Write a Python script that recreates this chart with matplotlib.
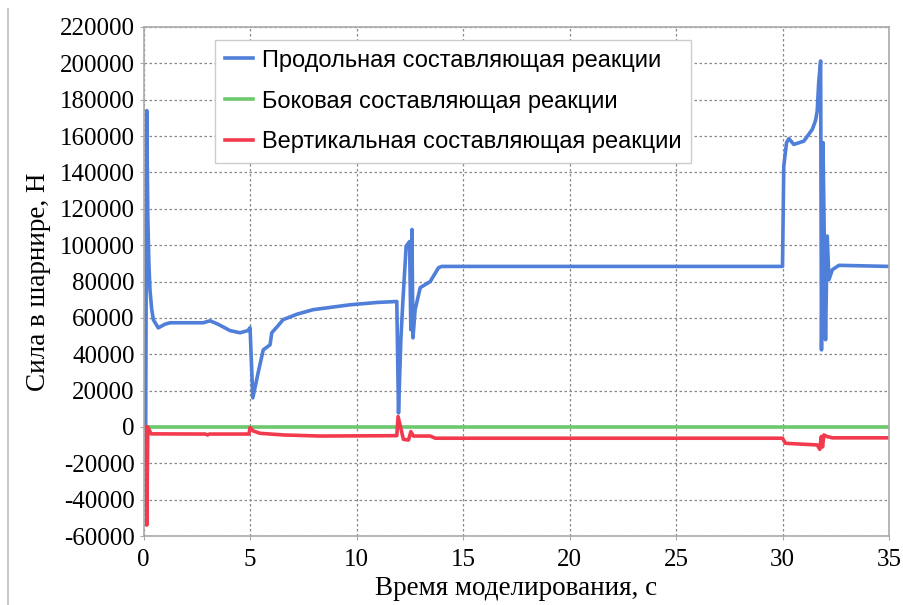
import numpy as np
import matplotlib.pyplot as plt
from matplotlib.lines import Line2D

plt.rcParams['axes.unicode_minus'] = False

# Продольная составляющая (blue)
t_long = [0, 0.1, 0.15, 0.2, 0.25, 0.3, 0.38, 0.46, 0.69, 1.0, 1.24, 2.8, 3.12, 3.5, 4.06, 4.53, 4.9, 5.0,
          5.13, 5.38, 5.62, 5.94, 6.02, 6.3, 6.55, 7.2, 7.96, 9.7, 11.0, 11.89, 11.97, 12.08,
          12.18, 12.33, 12.49, 12.55, 12.6, 12.65, 12.75, 12.99, 13.46, 13.85, 14.0,
          30.0, 30.06, 30.19, 30.3, 30.53, 31.0, 31.4, 31.55, 31.63, 31.7, 31.79, 31.83, 31.9,
          31.94, 32.02, 32.1, 32.18, 32.34, 32.65, 35.0]
v_long = [0, 0, 174000, 115000, 90000, 75500, 65000, 59000, 54500, 56500, 57300, 57300, 58400, 56500, 53000,
          51800, 53000, 54600, 16000, 29800, 42400, 45200, 51800, 55500, 59000, 62000, 64500,
          67200, 68500, 69000, 7700, 48000, 70000, 99400, 102000, 53500, 108600, 49000,
          64500, 76600, 80000, 87600, 88300, 88300, 143500, 156400, 158600, 155400,
          157200, 163700, 168500, 173800, 189600, 201300, 42400, 156400, 123400, 48000, 105000,
          81000, 86500, 88900, 88300]

# Боковая составляющая (green)
t_side = [0, 35.0]
v_side = [0, 0]

# Вертикальная составляющая (red)
t_vert = [0, 0.12, 0.15, 0.2, 0.35, 2.9, 3.0, 3.1, 4.95, 5.0, 5.15, 5.47, 6.55, 8.3,
          11.89, 11.95, 12.2, 12.44, 12.55, 12.67, 13.46, 13.7, 30.0, 30.14, 31.63,
          31.75, 31.82, 31.88, 31.94, 32.1, 32.34, 35.0]
v_vert = [0, 0, -54000, 0, -3800, -3900, -4400, -3900, -3900, -400, -2200, -3500,
          -4400, -5000, -4800, 5700, -6800, -7200, -2600, -5000, -5000, -6200, -6200,
          -9000, -9900, -12300, -5300, -11000, -4400, -5300, -6000, -6000]

labels = ["Продольная составляющая реакции",
          "Боковая составляющая реакции",
          "Вертикальная составляющая реакции"]
colors = ["#4f7fd8", "#6dc86d", "#f23a4e"]

fig = plt.figure(figsize=(9.04, 6.05), dpi=100)
ax = fig.add_axes([0.1588, 0.114, 0.8246, 0.8414])

ax.plot(t_long, v_long, color=colors[0], lw=2.6, label=labels[0])
ax.plot(t_side, v_side, color=colors[1], lw=2.6, label=labels[1])
ax.plot(t_vert, v_vert, color=colors[2], lw=2.6, label=labels[2])

ax.set_xlim(0, 35)
ax.set_ylim(-60000, 220000)
ax.set_xticks(np.arange(0, 36, 5))
ax.set_yticks(np.arange(-60000, 220001, 20000))
ax.grid(True, color="#888888", linestyle=(0, (2, 2)), lw=0.9)
ax.set_axisbelow(True)

for s in ax.spines.values():
    s.set_color("#aaaaaa")
    s.set_linewidth(1.2)
ax.tick_params(colors="#aaaaaa", length=3, labelcolor="black")
ax.tick_params(axis="x", pad=6)
for lab in ax.get_xticklabels() + ax.get_yticklabels():
    lab.set_fontfamily("Liberation Serif")
    lab.set_fontsize(18)

ax.set_xlabel("Время моделирования, с", fontfamily="Liberation Serif", fontsize=19.5, labelpad=4)
ax.set_ylabel("Сила в шарнире, Н", fontfamily="Liberation Serif", fontsize=19.5, labelpad=6)

leg = ax.legend(loc="upper left", bbox_to_anchor=(0.096, 0.974), borderaxespad=0,
                prop={"family": "Liberation Sans", "size": 17}, fancybox=False,
                framealpha=1, edgecolor="#cccccc", labelspacing=0.8,
                handlelength=1.2, handletextpad=0.4, borderpad=0.4)

fig.add_artist(Line2D([8 / 904, 8 / 904], [0, 0.985], color="#bbbbbb", lw=1.2,
                      transform=fig.transFigure))

fig.savefig("out.png", dpi=100)
